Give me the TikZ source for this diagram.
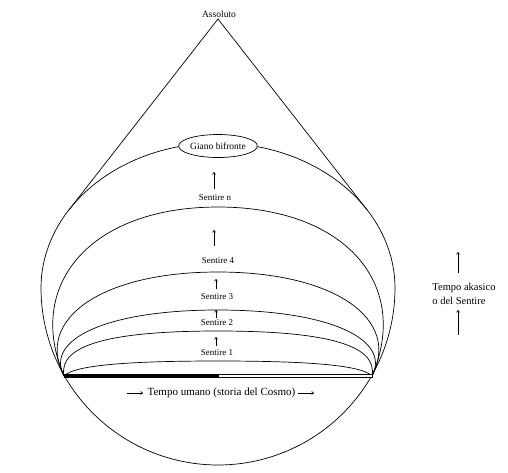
\documentclass[tikz,border=0pt]{standalone}
\usepackage{fontspec}
\setmainfont{Liberation Serif}
\usetikzlibrary{arrows.meta,shapes.geometric}
\begin{document}
\begin{tikzpicture}[x=1pt,y=-1pt, line width=0.7pt,
  lbl/.style={inner sep=0pt, font=\fontsize{9}{10}\selectfont},
  biglbl/.style={inner sep=0pt, font=\fontsize{11}{13}\selectfont},
  uparrow/.style={line width=0.6pt, -{To[length=2.6pt,width=3.4pt]}},
  dome/.style={line width=0.7pt}]
\useasboundingbox (0,0) rectangle (508,472);
% key points
\coordinate (apex) at (218,19);
\coordinate (L) at (64,376);
\coordinate (R) at (372,376);
\coordinate (tl) at (69,209.8);
\coordinate (tr) at (367,209.8);
% apex lines
\draw (tl) -- (apex) -- (tr);
% outer dome (Giano level)
\draw plot[domain=150.2:180, samples=20] ({218+177*cos(\x)},{288+177*sin(\x)})
  -- plot[domain=180:360, samples=120] ({218+177*cos(\x)},{288+145*sin(\x)})
  -- plot[domain=0:29.8, samples=20] ({218+177*cos(\x)},{288+177*sin(\x)});
% bottom circle arc
\draw plot[domain=29.8:150.2, samples=100] ({218+177*cos(\x)},{288+177*sin(\x)});
% inner domes
\draw[dome] (L) .. controls (25,285) and (90,207) .. (218,207) .. controls (346,207) and (411,285) .. (R);
\draw[dome] (L) .. controls (35,320) and (100,272) .. (218,272) .. controls (336,272) and (401,320) .. (R);
\draw[dome] (L) .. controls (45,340) and (105,310) .. (218,310) .. controls (331,310) and (391,340) .. (R);
\draw[dome] (L) .. controls (58,345) and (110,331) .. (218,331) .. controls (326,331) and (378,345) .. (R);
\draw[dome] (L) .. controls (75,364) and (140,361) .. (218,361) .. controls (296,361) and (361,364) .. (R);
% base bar
\fill (64,374) rectangle (218,378);
\draw[line width=0.6pt, fill=white] (218,374.3) rectangle (372,377.7);
% nodes
\node[lbl, font=\fontsize{9.5}{11}\selectfont, anchor=south] (ass) at (219,18) {Assoluto};
\node[draw, ellipse, fill=white, minimum width=67pt, minimum height=23pt, inner sep=0pt,
      font=\fontsize{9.5}{11}\selectfont] (giano) at (218,146) {Giano bifronte};
\node[lbl] (sn) at (215,198) {Sentire n};
\node[lbl] (s4) at (218,261) {Sentire 4};
\node[lbl] (s3) at (217,297) {Sentire 3};
\node[lbl] (s2) at (217,323) {Sentire 2};
\node[lbl] (s1) at (217,353) {Sentire 1};
\node[biglbl] (tu) at (221.5,393) {Tempo umano (storia del Cosmo)};
\node[inner sep=0pt, align=left, font=\fontsize{10.5}{14}\selectfont] (ta) at (464,294) {Tempo akasico\\o del Sentire};
% small arrows
\coordinate (a1s) at (214,189); \coordinate (a1e) at (214,172);
\coordinate (a2s) at (214,246); \coordinate (a2e) at (214,230);
\coordinate (a3s) at (216,289); \coordinate (a3e) at (216,279);
\coordinate (a4s) at (216,318); \coordinate (a4e) at (216,310);
\coordinate (a5s) at (216,346); \coordinate (a5e) at (216,337);
\draw[uparrow] (a1s) -- (a1e);
\draw[uparrow] (a2s) -- (a2e);
\draw[uparrow] (a3s) -- (a3e);
\draw[uparrow] (a4s) -- (a4e);
\draw[uparrow] (a5s) -- (a5e);
\coordinate (r1s) at (458,273); \coordinate (r1e) at (458,252);
\coordinate (r2s) at (458,335); \coordinate (r2e) at (458,310);
\draw[uparrow] (r1s) -- (r1e);
\draw[uparrow] (r2s) -- (r2e);
\coordinate (h1s) at (127,393); \coordinate (h1e) at (143,393);
\coordinate (h2s) at (298,393); \coordinate (h2e) at (314,393);
\draw[uparrow] (h1s) -- (h1e);
\draw[uparrow] (h2s) -- (h2e);
\end{tikzpicture}
\end{document}
